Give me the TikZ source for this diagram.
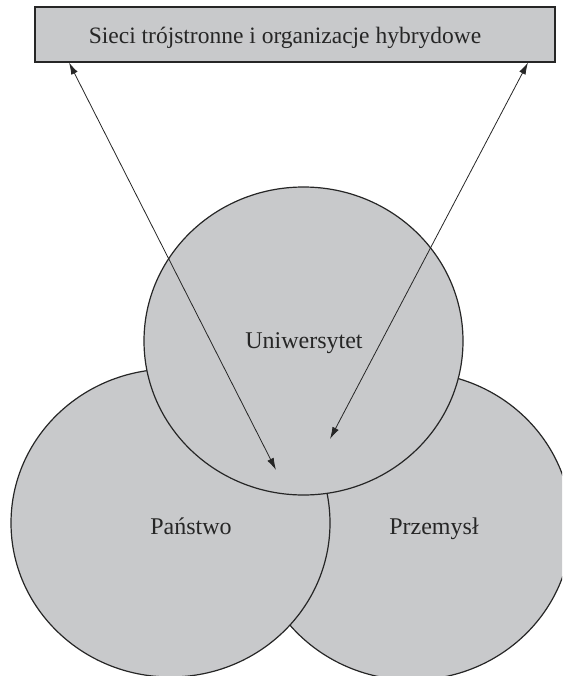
\documentclass[tikz,border=0pt]{standalone}
\usepackage{fontspec}
\setmainfont{Liberation Serif}
\usepackage{tikz}
\usetikzlibrary{shapes, arrows.meta}
\usepackage{xcolor}
\definecolor{venngray}{HTML}{C8C9CB}
\definecolor{liniagray}{HTML}{262626}

\begin{document}
\begin{tikzpicture}[x=1pt, y=-1pt, line width=1.2pt, >={Latex[length=12pt, width=7pt]},
	sfera/.style={draw=liniagray, ellipse, fill=venngray, inner sep=0pt, minimum width=319pt, minimum height=308pt},
	napis/.style={font=\fontsize{24}{28}\selectfont, text=black!85}]
		\useasboundingbox (0,0) rectangle (562,676);
		\clip (0,0) rectangle (562,676);
		\node[sfera] (3) at (412,526) {};
		\node[sfera] (2) at (170.5,523) {};
		\node[sfera] (1) at (303.5,341) {};
		\node[draw=liniagray, fill=venngray, inner sep=0pt, minimum width=520pt, minimum height=55pt] (4) at (295,34.5) {};
		\node[napis, anchor=base] (1t) at (304,348) {Uniwersytet};
		\node[napis, anchor=base] (2t) at (191,534) {Państwo};
		\node[napis, anchor=base] (3t) at (434,534) {Przemysł};
		\node[napis, font=\fontsize{23.5}{28}\selectfont, anchor=base] (4t) at (285,44) {Sieci trójstronne i organizacje hybrydowe};
		\coordinate (a1) at (69,62.5);
		\coordinate (a2) at (276,470);
		\coordinate (b1) at (528,62.5);
		\coordinate (b2) at (330,439);
		\draw[<->, line width=0.8pt, liniagray] (a1) -- (a2);
		\draw[<->, line width=0.8pt, liniagray] (b1) -- (b2);
	\end{tikzpicture}
\end{document}
